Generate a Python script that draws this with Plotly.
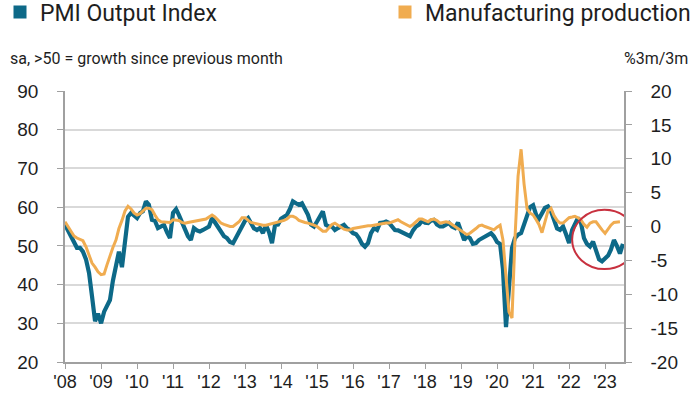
import pandas as pd
import plotly.graph_objects as go

# PMI Output Index, monthly from Jan 2008 (sa, >50 = growth)
pmi_values = [
    55.5, 54, 52.5, 51.5, 49.5, 49.5, 48.5, 46.5, 43, 37, 30.5, 32.5,
    30, 33, 34.5, 36, 41, 45.5, 48.5, 44.5, 52, 57.5, 58.5, 58,
    57.2, 58.5, 58.9, 61.5, 60.6, 56.7, 56.5, 54.6, 55, 55.4, 53.5, 52,
    58.5, 59.5, 58, 55.9, 54.1, 52.5, 51.5, 54.6, 54, 53.7, 54.1, 54.5,
    55, 57.2, 56, 55, 53.3, 52.5, 52, 51, 50.7, 52, 53.5, 55,
    56.5, 57.2, 55.9, 54.5, 54.1, 54.6, 53.3, 55.4, 53.5, 50.7, 55.4, 55.5,
    57, 57.5, 58, 59.5, 61.5, 61, 60.6, 61, 59.5, 58, 55.5, 55,
    56.3, 57.5, 58.9, 55.4, 55, 55, 54.1, 54.6, 55, 55.4, 54.5, 54.1,
    53.3, 53, 52, 50.5, 49.8, 50.7, 53.3, 54.6, 54.1, 55.9, 56, 56.3,
    55.9, 55, 54.1, 54, 53.7, 53.3, 52.8, 52.5, 54, 55, 55.5, 56.5,
    56, 55.9, 56.5, 56.7, 55.5, 55, 55, 55.5, 55.9, 55, 54.6, 56,
    53.3, 51.5, 52.5, 52, 50.5, 50.7, 51.5, 52, 52.4, 53, 53.3, 52.4,
    51, 50.5, 44, 29, 38, 49.5, 52, 52.9, 53.3, 55.5, 58.5, 60,
    60.5, 58, 57, 58.5, 59.8, 60.2, 59, 56.7, 54.5, 54.1, 55, 53,
    50.7, 54.1, 55.5, 57.2, 56, 52, 50.5, 49.8, 51.1, 49, 46.5, 46,
    46.8, 47.5, 49, 51.5, 50, 48, 50.5,
]

# Manufacturing production, %3m/3m, monthly from Jan 2008
mfg_values = [
    0.7, 0.0, -0.7, -1.4, -1.7, -1.9, -2.1, -3.0, -4.3, -5.4, -6.0, -6.7,
    -7.1, -7.0, -5.7, -4.2, -3.1, -2.0, -0.3, 0.9, 2.3, 3.0, 2.6, 2.0,
    1.7, 1.9, 2.3, 2.7, 2.7, 2.5, 1.7, 1.0, 0.7, 0.7, 0.6, 0.6,
    1.0, 0.9, 0.9, 0.6, 0.5, 0.6, 0.7, 0.7, 0.9, 1.0, 1.0, 1.1,
    1.4, 1.7, 1.4, 0.9, 0.5, 0.3, 0.1, 0.0, 0.0, 0.3, 0.7, 1.3,
    1.3, 0.9, 0.6, 0.5, 0.4, 0.2, 0.2, 0.2, 0.3, 0.5, 0.6, 0.7,
    0.7, 0.9, 1.1, 1.5, 1.5, 1.3, 0.9, 0.7, 0.6, 0.5, 0.4, 0.2,
    0.0, -0.4, -0.7, -0.7, -0.2, 0.3, 0.5, 0.2, -0.2, -0.4, -0.5, -0.5,
    -0.3, -0.2, -0.2, -0.1, 0.0, 0.1, 0.1, 0.2, 0.2, 0.3, 0.4, 0.5,
    0.5, 0.7, 0.9, 1.0, 0.7, 0.5, 0.2, 0.0, 0.3, 0.7, 1.1, 1.1,
    0.9, 0.7, 1.0, 1.1, 0.9, 0.5, 0.6, 0.7, 0.6, 0.3, 0.0, -0.2,
    -0.5, -0.9, -1.2, -1.0, -0.7, -0.3, 0.1, 0.2, 0.0, -0.2, -0.4, -0.5,
    -0.1, 0.2, -2.0, -7.7, -12.6, -13.5, -1.7, 7.4, 11.4, 6.3, 2.6, 2.0,
    1.7, 1.0, 0.3, -0.9, 0.6, 2.3, 2.7, 1.6, 0.9, 0.5, 0.5, 0.9,
    1.3, 1.4, 1.5, 1.3, 1.0, 0.3, -0.1, 0.5, 0.7, 0.7, 0.0, -0.5,
    -1.0, -0.3, 0.2, 0.6, 0.7, 0.7,
]

left_ticks = [20, 30, 40, 50, 60, 70, 80, 90]
right_ticks = [-20, -15, -10, -5, 0, 5, 10, 15, 20]

pmi_dates = pd.date_range("2008-01-01", periods=len(pmi_values), freq="MS")
mfg_dates = pd.date_range("2008-01-01", periods=len(mfg_values), freq="MS")

TEAL = "#0d6988"
ORANGE = "#f0ac50"
TEXT = "#1e1e1e"

fig = go.Figure()
fig.add_trace(go.Scatter(x=pmi_dates, y=pmi_values, mode="lines",
                         line=dict(color=TEAL, width=4.2), showlegend=False,
                         name="PMI Output Index", yaxis="y"))
fig.add_trace(go.Scatter(x=mfg_dates, y=mfg_values, mode="lines",
                         line=dict(color=ORANGE, width=3), showlegend=False,
                         name="Manufacturing production", yaxis="y2"))
# legend entries with square swatches
fig.add_trace(go.Scatter(x=[None], y=[None], mode="markers", name="PMI Output Index",
                         marker=dict(symbol="square", size=13, color=TEAL), legend="legend"))
fig.add_trace(go.Scatter(x=[None], y=[None], mode="markers", name="Manufacturing production",
                         marker=dict(symbol="square", size=13, color=ORANGE), legend="legend2"))

fig.add_shape(type="circle", xref="x", yref="y",
              x0="2022-02-01", x1="2023-11-20", y0=44, y1=59.3,
              line=dict(color="#c8313f", width=2))

fig.add_annotation(text="sa, >50 = growth since previous month", xref="paper", yref="paper",
                   x=(8 - 65) / 559, y=(362 - 58) / 271, xanchor="left", yanchor="middle",
                   showarrow=False, font=dict(family="Roboto", size=16, color=TEXT))
fig.add_annotation(text="%3m/3m", xref="paper", yref="paper",
                   x=(690 - 65) / 559, y=(362 - 58) / 271, xanchor="right", yanchor="middle",
                   showarrow=False, font=dict(family="Roboto", size=16, color=TEXT))

axis_font = dict(family="Liberation Sans, Arial", size=19, color=TEXT)
xaxis_font = dict(family="Liberation Sans, Arial", size=18, color=TEXT)
legend_font = dict(family="Roboto", size=23, color=TEXT)

fig.update_layout(
    width=700, height=394,
    margin=dict(l=65, r=76, t=91, b=32, autoexpand=False),
    paper_bgcolor="white", plot_bgcolor="white",
    legend=dict(orientation="h", xref="container", yref="container", x=-0.022, y=1 - 12 / 394,
                xanchor="left", yanchor="middle", font=legend_font,
                itemclick=False, bgcolor="rgba(0,0,0,0)"),
    legend2=dict(orientation="h", xref="container", yref="container", x=(398 - 13) / 700,
                 y=1 - 12 / 394, xanchor="left", yanchor="middle", font=legend_font,
                 itemclick=False, bgcolor="rgba(0,0,0,0)"),
    xaxis=dict(type="date", range=["2008-01-01", "2023-07-12"], dtick="M12", tick0="2008-01-01",
               tickformat="'%y", ticks="outside", ticklen=5, tickcolor="#a0a0a0",
               showline=True, linecolor="#a0a0a0", linewidth=1.5, showgrid=False,
               tickfont=xaxis_font, zeroline=False, automargin=False, ticklabelstandoff=-2),
    yaxis=dict(range=[20, 90], tickvals=left_ticks, ticks="outside", ticklen=6, tickcolor="#a0a0a0",
               showline=True, linecolor="#a0a0a0", linewidth=1.5, showgrid=True,
               gridcolor="#d9d9d9", gridwidth=1.5, tickfont=axis_font, zeroline=False,
               ticklabelstandoff=15, automargin=False),
    yaxis2=dict(range=[-20, 20], tickvals=right_ticks, ticktext=[f"{v}" for v in right_ticks],
                overlaying="y", side="right",
                ticks="outside", ticklen=6, tickcolor="#a0a0a0", showline=True,
                linecolor="#a0a0a0", linewidth=1.5, showgrid=False, tickfont=axis_font,
                zeroline=False, ticklabelstandoff=15, automargin=False),
)

fig.write_html("out.html", config={"displayModeBar": False},
               post_script="document.body.style.margin='0';document.body.style.padding='0';"
                           "document.documentElement.style.overflow='hidden';")
